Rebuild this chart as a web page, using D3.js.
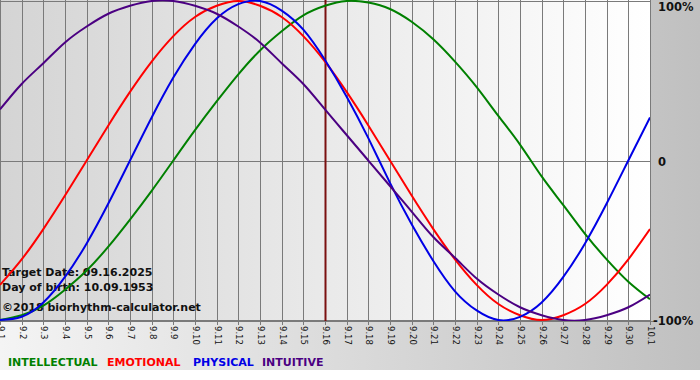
<!DOCTYPE html>
<html>
<head>
<meta charset="utf-8">
<script src="https://cdn.jsdelivr.net/npm/d3@7"></script>
<style>
html,body{margin:0;padding:0;background:#fff;}
svg{display:block;}
</style>
</head>
<body>
<svg id="chart" width="700" height="380"></svg>
<script>
// ---- data ----
const days = ["9.1","9.2","9.3","9.4","9.5","9.6","9.7","9.8","9.9","9.10","9.11","9.12","9.13","9.14","9.15","9.16","9.17","9.18","9.19","9.20","9.21","9.22","9.23","9.24","9.25","9.26","9.27","9.28","9.29","9.30","10.1"];
const intellectual = [-1.00,-0.97,-0.91,-0.81,-0.69,-0.54,-0.37,-0.19,0.00,0.19,0.37,0.54,0.69,0.81,0.91,0.97,1.00,0.99,0.95,0.87,0.76,0.62,0.46,0.28,0.10,-0.10,-0.28,-0.46,-0.62,-0.76,-0.87];
const emotional = [-0.78,-0.62,-0.43,-0.22,0.00,0.22,0.43,0.62,0.78,0.90,0.97,1.00,0.97,0.90,0.78,0.62,0.43,0.22,0.00,-0.22,-0.43,-0.62,-0.78,-0.90,-0.97,-1.00,-0.97,-0.90,-0.78,-0.62,-0.43];
const physical = [-1.00,-0.98,-0.89,-0.73,-0.52,-0.27,0.00,0.27,0.52,0.73,0.89,0.98,1.00,0.94,0.82,0.63,0.40,0.14,-0.14,-0.40,-0.63,-0.82,-0.94,-1.00,-0.98,-0.89,-0.73,-0.52,-0.27,0.00,0.27];
const intuitive = [0.32,0.48,0.61,0.74,0.84,0.92,0.97,1.00,1.00,0.97,0.92,0.84,0.74,0.61,0.48,0.32,0.16,0.00,-0.16,-0.32,-0.48,-0.61,-0.74,-0.84,-0.92,-0.97,-1.00,-1.00,-0.97,-0.92,-0.84];
const seriesNames = ["INTELLECTUAL","EMOTIONAL","PHYSICAL","INTUITIVE"];
const seriesColors = ["#008000","#ff0000","#0000e6","#4b0082"];
const yTickValues = [1, 0, -1];
const yTickLabels = ["100%", "0", "-100%"];
const targetDay = "9.16";
const infoLines = ["Target Date: 09.16.2025", "Day of birth: 10.09.1953", "\u00a92018 biorhythm-calculator.net"];

// ---- layout ----
const svg = d3.select("#chart");
const W = 700, H = 380;
const plot = {left: 0, top: 0, right: 650, bottom: 321};

const defs = svg.append("defs");
const gBg = defs.append("linearGradient").attr("id","bgGrad").attr("x1","0").attr("x2","1").attr("y1","0").attr("y2","0");
gBg.append("stop").attr("offset","0").attr("stop-color","#f4f4f4");
gBg.append("stop").attr("offset","1").attr("stop-color","#c0c0c0");
const gPlot = defs.append("linearGradient").attr("id","plotGrad").attr("x1","0").attr("x2","1").attr("y1","0").attr("y2","0");
gPlot.append("stop").attr("offset","0").attr("stop-color","#d4d4d4");
gPlot.append("stop").attr("offset","1").attr("stop-color","#ffffff");
defs.append("clipPath").attr("id","plotClip").append("rect")
  .attr("x", plot.left).attr("y", plot.top).attr("width", plot.right-plot.left).attr("height", plot.bottom-plot.top);

svg.append("rect").attr("x",0).attr("y",0).attr("width",W).attr("height",370).attr("fill","url(#bgGrad)");
svg.append("rect").attr("x",plot.left).attr("y",plot.top).attr("width",plot.right-plot.left).attr("height",plot.bottom-plot.top).attr("fill","url(#plotGrad)");

const x = d3.scalePoint().domain(days).range([plot.left, plot.right]);
const y = d3.scaleLinear().domain([-1, 1]).range([320, 1]);

// vertical grid + ticks
const grid = svg.append("g");
days.forEach(d => {
  const xx = Math.round(x(d)) + 0.5;
  grid.append("line").attr("x1",xx).attr("x2",xx).attr("y1",plot.top).attr("y2",plot.bottom+4)
    .attr("stroke","#7a7a7a").attr("stroke-width",1);
});
// horizontal lines
yTickValues.forEach(v => {
  const yy = Math.round(y(v)) + 0.5;
  grid.append("line").attr("x1",plot.left).attr("x2",plot.right).attr("y1",yy).attr("y2",yy)
    .attr("stroke","#7a7a7a").attr("stroke-width",1);
});
grid.append("line").attr("x1",plot.left).attr("x2",plot.right+4).attr("y1",plot.bottom+0.5).attr("y2",plot.bottom+0.5)
  .attr("stroke","#7a7a7a");

// x labels rotated
const xl = svg.append("g").attr("font-family","DejaVu Sans, Verdana, sans-serif").attr("font-size","8.5px").attr("fill","#111");
days.forEach(d => {
  xl.append("text").attr("transform",`translate(${Math.round(x(d))+0.5},326) rotate(90)`)
    .attr("dy","0.35em").attr("text-anchor","start").text(d);
});

// y labels on the right
const yl = svg.append("g").attr("font-family","DejaVu Sans, Verdana, sans-serif").attr("font-size","11.5px").attr("font-weight","bold").attr("fill","#111");
yTickValues.forEach((v,i) => {
  yl.append("text").attr("x", i===2 ? 653 : 658).attr("y", y(v) + (i===0 ? 10 : 5)).text(yTickLabels[i]);
});

// info text (behind curves)
const info = svg.append("g").attr("font-family","DejaVu Sans, Verdana, sans-serif").attr("font-size","11px").attr("font-weight","bold").attr("fill","#111");
[276, 291, 311].forEach((yy,i) => info.append("text").attr("x",2).attr("y",yy).text(infoLines[i]));

// target line
svg.append("line").attr("x1",x(targetDay)+0.5).attr("x2",x(targetDay)+0.5).attr("y1",plot.top).attr("y2",plot.bottom)
  .attr("stroke","#7a1010").attr("stroke-width",2);

// curves
const line = d3.line().x((d,i) => x(days[i])).y(d => y(d)).curve(d3.curveNatural);
const allSeries = [intellectual, emotional, physical, intuitive];
const curves = svg.append("g").attr("clip-path","url(#plotClip)");
allSeries.forEach((s,i) => {
  curves.append("path").attr("d", line(s)).attr("fill","none").attr("stroke",seriesColors[i]).attr("stroke-width",2);
});

// legend
const legX = [8, 107, 193, 262];
const lg = svg.append("g").attr("font-family","DejaVu Sans, Verdana, sans-serif").attr("font-size","11px").attr("font-weight","bold");
seriesNames.forEach((n,i) => {
  lg.append("text").attr("x",legX[i]).attr("y",366).attr("fill",seriesColors[i]).text(n);
});
</script>
</body>
</html>
